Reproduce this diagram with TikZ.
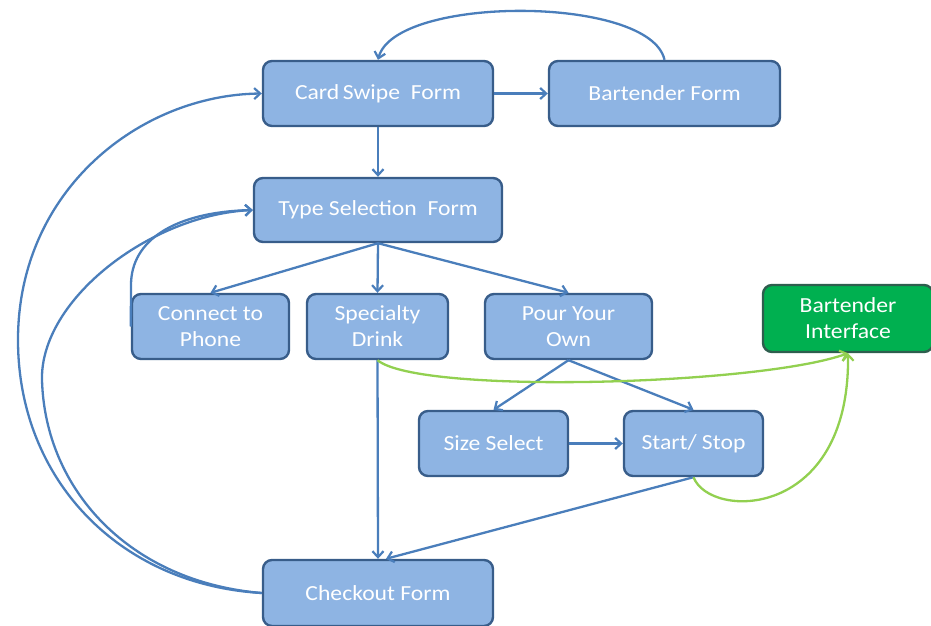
\documentclass[tikz,border=0pt]{standalone}
\usepackage{fontspec}
\setmainfont{Carlito}[FakeStretch=1.1]
\usetikzlibrary{arrows.meta,calc}
\definecolor{boxfill}{HTML}{8EB4E3}
\definecolor{boxline}{HTML}{385D8A}
\definecolor{arrowblue}{HTML}{4A7EBB}
\definecolor{greenfill}{HTML}{00B050}
\definecolor{greenline}{HTML}{92D050}
\definecolor{greenborder}{HTML}{2E5E4E}
\tikzset{
  formbox/.style={draw=boxline, fill=boxfill, line width=2.4pt, rounded corners=9pt,
    text=white, align=center, inner sep=0pt,
    font=\fontsize{21.5}{26}\selectfont},
  greenbox/.style={formbox, fill=greenfill, draw=greenborder},
  flow/.style={draw=arrowblue, line width=2.3pt, -{Straight Barb[length=6pt,width=11pt,line width=2.2pt]}},
  gflow/.style={draw=greenline, line width=2.3pt, -{Straight Barb[length=6pt,width=11pt,line width=2.2pt]}},
}
\begin{document}
\begin{tikzpicture}[x=1pt,y=-1pt]
\useasboundingbox (0,0) rectangle (931,626);
\node[formbox, minimum width=230, minimum height=65] (cs) at (378,93.5) {Card\,Swipe~~Form};
\node[formbox, minimum width=231, minimum height=65] (bf) at (664.5,93.5) {Bartender Form};
\node[formbox, minimum width=248, minimum height=64] (ts) at (378,210) {Type Selection~ Form};
\node[formbox, minimum width=157, minimum height=65] (cp) at (210.5,326.5) {Connect to\\Phone};
\node[formbox, minimum width=141, minimum height=65] (sd) at (377.5,326.5) {Specialty\\Drink};
\node[formbox, minimum width=167, minimum height=65] (po) at (568.5,326.5) {Pour Your\\Own};
\node[greenbox, minimum width=170, minimum height=67] (bi) at (848,318.5) {Bartender\\Interface};
\node[formbox, minimum width=149, minimum height=65] (ss) at (493.5,443.5) {Size Select};
\node[formbox, minimum width=139, minimum height=65] (st) at (693.5,443.5) {Start/ Stop};
\node[formbox, minimum width=230, minimum height=66] (co) at (378,593) {Checkout Form};

% top arc
\draw[flow] (bf.north) .. controls (650,-5) and (395,-5) .. (cs.north);
\draw[flow] (cs.east) -- (bf.west);
\draw[flow] (cs.south) -- (ts.north);
\draw[flow] (ts.south) -- (cp.north);
\draw[flow] (ts.south) -- (sd.north);
\draw[flow] (ts.south) -- (po.north);
\draw[flow] (po.south) -- (ss.north);
\draw[flow] (po.south) -- (st.north);
\draw[flow] (ss.east) -- (st.west);
\draw[flow] (sd.south) -- (co.north);
\draw[flow] (st.south) -- ([xshift=8pt]co.north);
% connect to phone back to type selection
\draw[flow] (cp.west) -- (131,285) .. controls (131,240) and (175,212) .. (ts.west);
% checkout back to type selection
\draw[flow] (co.west) .. controls (130,582) and (45,490) .. (42,380) .. controls (40,300) and (150,215) .. (ts.west);
% checkout back to card swipe
\draw[flow] (co.west) .. controls (120,585) and (18,480) .. (18,340) .. controls (18,190) and (140,95) .. (cs.west);
% green connectors
\draw[gflow] (sd.south) .. controls (420,395) and (760,385) .. (bi.south);
\draw[gflow] (st.south) .. controls (710,520) and (850,520) .. (bi.south);
\end{tikzpicture}
\end{document}
